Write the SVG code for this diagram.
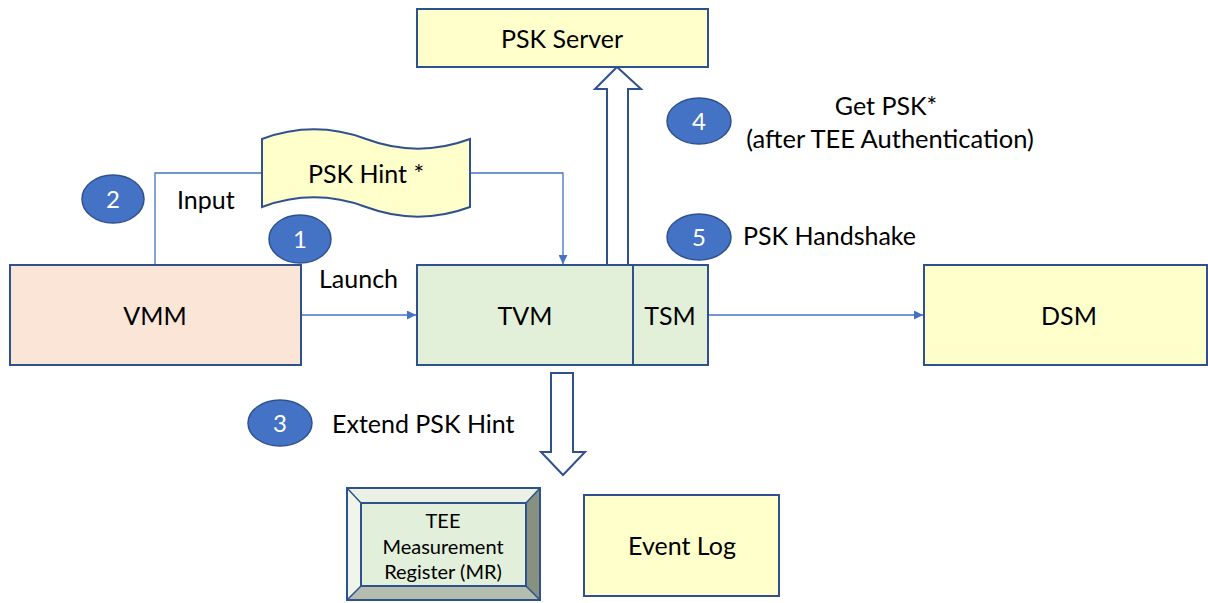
<svg xmlns="http://www.w3.org/2000/svg" width="1208" height="603" viewBox="0 0 1208 603">
<defs>
<style>
.box{stroke:#2F528F;stroke-width:2}
.yel{fill:#FFFFCC}
.grn{fill:#E2F0D9}
.pch{fill:#FBE5D6}
.t{font-family:Lato,"Liberation Sans",sans-serif;font-size:25px;fill:#000}
.c{text-anchor:middle}
.num{font-family:Lato,"Liberation Sans",sans-serif;font-size:24px;fill:#fff;text-anchor:middle}
.badge{fill:#4472C4;stroke:#2F528F;stroke-width:1.5}
.conn{fill:none;stroke:#4472C4;stroke-width:1.3}
.blk{fill:#fff;stroke:#2F528F;stroke-width:2}
</style>
<marker id="ah" viewBox="0 0 10 10" refX="10" refY="5" markerWidth="9" markerHeight="9" markerUnits="userSpaceOnUse" orient="auto">
<path d="M0,0 L10,5 L0,10 Z" fill="#4472C4"/>
</marker>
</defs>
<rect width="1208" height="603" fill="#fff"/>

<g id="connectors">
<path class="conn" d="M155,265 L155,173 L262,173"/>
<path class="conn" d="M470,173 L563,173 L563,264" marker-end="url(#ah)"/>
<path class="conn" d="M301,315 L416,315" marker-end="url(#ah)"/>
<path class="conn" d="M708,315 L923,315" marker-end="url(#ah)"/>
<path class="blk" d="M607,265 L607,89 L595,89 L617,67 L641,89 L628,89 L628,265"/>
<path class="blk" d="M551,373 L573,373 L573,452 L585,452 L563,475 L541,452 L551,452 Z"/>
</g>

<g id="psk-server">
<rect class="box yel" x="417" y="9" width="291" height="58"/>
<text class="t c" x="562" y="48">PSK Server</text>
</g>

<g id="psk-hint">
<path class="box yel" d="M262,139 C297,126 331,126 366,139 C401,152 435,152 470,139 L470,207 C435,220 401,220 366,207 C331,194 297,194 262,207 Z"/>
<text class="t c" x="366" y="183">PSK Hint *</text>
</g>

<g id="vmm">
<rect class="box pch" x="10" y="265" width="291" height="100"/>
<text class="t c" x="155" y="325">VMM</text>
</g>

<g id="tvm">
<rect class="box grn" x="417" y="265" width="216" height="100"/>
<text class="t c" x="525" y="325">TVM</text>
</g>

<g id="tsm">
<rect class="box grn" x="633" y="265" width="75" height="100"/>
<text class="t c" x="670" y="325">TSM</text>
</g>

<g id="dsm">
<rect class="box yel" x="924" y="265" width="283" height="100"/>
<text class="t c" x="1069" y="325">DSM</text>
</g>

<g id="mr">
<rect x="347" y="488" width="193" height="112" fill="#E2EFDA"/>
<polygon points="347,488 540,488 526,503 361,503" fill="#EBF2E5"/>
<polygon points="347,488 361,503 361,586 347,600" fill="#F0F5EC"/>
<polygon points="540,488 540,600 526,586 526,503" fill="#86917F"/>
<polygon points="347,600 540,600 526,586 361,586" fill="#B4BDAE"/>
<rect x="347" y="488" width="193" height="112" fill="none" stroke="#2F528F" stroke-width="2"/>
<rect x="361" y="503" width="165" height="83" fill="none" stroke="#2F528F" stroke-width="2"/>
<path d="M347,488 L361,503 M540,488 L526,503 M540,600 L526,586 M347,600 L361,586" stroke="#2F528F" stroke-width="1.5"/>
<text class="t c" style="font-size:20px" x="443" y="528">TEE</text>
<text class="t c" style="font-size:20px" x="443" y="554">Measurement</text>
<text class="t c" style="font-size:20px" x="443" y="579">Register (MR)</text>
</g>

<g id="event-log">
<rect class="box yel" x="584" y="495" width="195" height="101"/>
<text class="t c" x="682" y="555">Event Log</text>
</g>

<g id="labels">
<text class="t" x="177" y="209">Input</text>
<text class="t" x="319" y="288">Launch</text>
<text class="t c" x="886" y="115">Get PSK*</text>
<text class="t c" x="890" y="148" style="font-size:25.5px">(after TEE Authentication)</text>
<text class="t" x="743" y="245">PSK Handshake</text>
<text class="t" x="332" y="433">Extend PSK Hint</text>
</g>

<g id="step-1"><ellipse class="badge" cx="300" cy="239" rx="31" ry="24"/><text class="num" x="300" y="248">1</text></g>
<g id="step-2"><ellipse class="badge" cx="113" cy="199" rx="31" ry="24"/><text class="num" x="113" y="208">2</text></g>
<g id="step-3"><ellipse class="badge" cx="280" cy="423" rx="32" ry="23"/><text class="num" x="280" y="432">3</text></g>
<g id="step-4"><ellipse class="badge" cx="699" cy="121" rx="32" ry="23"/><text class="num" x="699" y="130">4</text></g>
<g id="step-5"><ellipse class="badge" cx="699" cy="237" rx="32" ry="23"/><text class="num" x="699" y="246">5</text></g>
</svg>
